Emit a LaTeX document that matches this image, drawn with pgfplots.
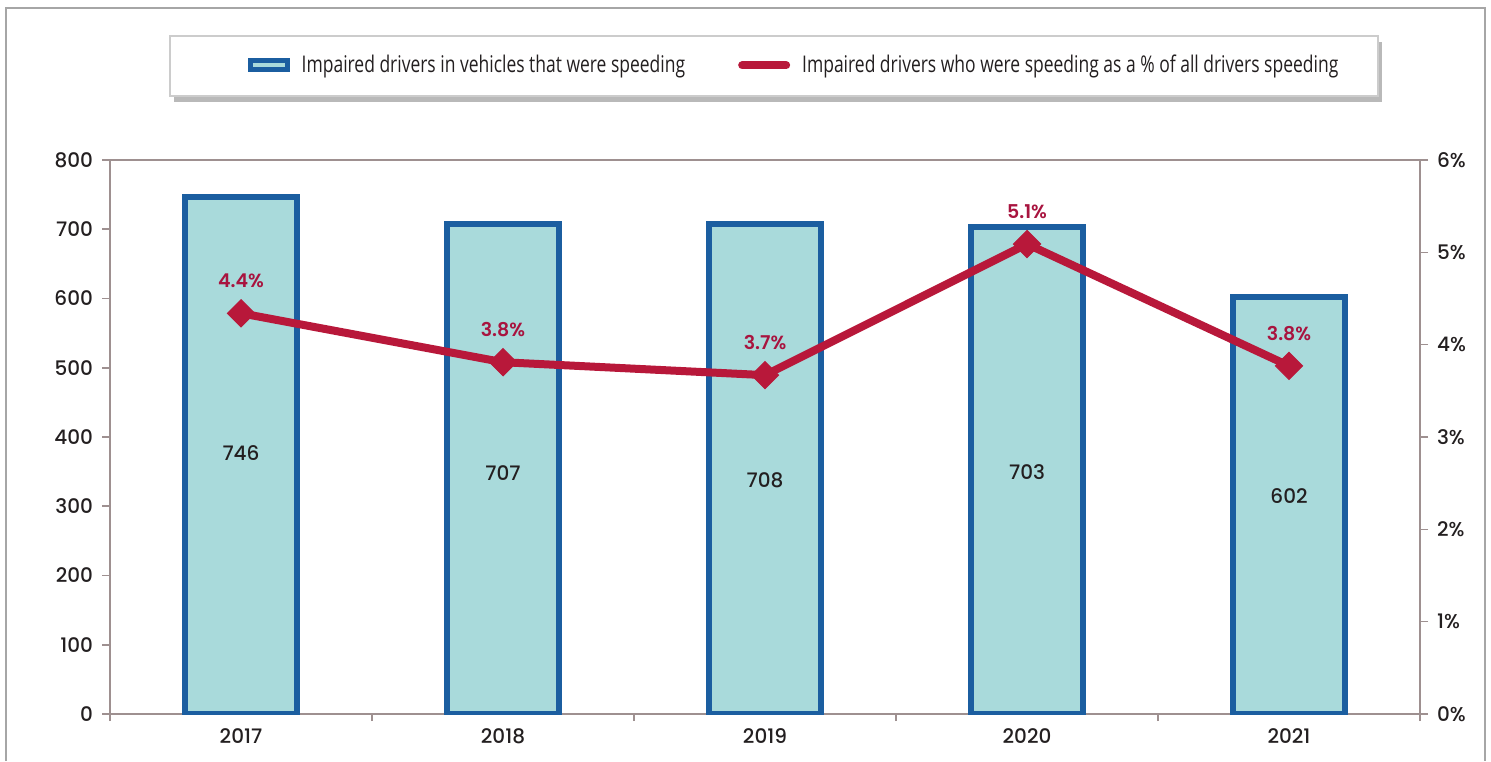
\documentclass[border=0pt]{standalone}
\usepackage{pgfplots}
\pgfplotsset{compat=1.18}
\usepackage{fontspec}
\setmainfont{Poppins}
\newfontfamily\tickfont{Poppins Medium}
\newfontfamily\labfont{Poppins SemiBold}
\newfontfamily\legfont[FakeStretch=0.76]{Open Sans}
\usetikzlibrary{shadows}
\definecolor{barfill}{HTML}{A9DADB}
\definecolor{barblue}{HTML}{1B5EA0}
\definecolor{linered}{HTML}{B8183A}
\definecolor{labred}{HTML}{A8143F}
\definecolor{axisgray}{HTML}{9E9090}
\definecolor{txt}{HTML}{231F20}

\begin{document}
\begin{tikzpicture}
% page size and outer frame
\path (0pt,0pt) rectangle (745.5pt,380.5pt);
\draw[gray!70, line width=0.8pt] (3pt,0pt) -- (3pt,376.5pt) -- (742.5pt,376.5pt) -- (742.5pt,0pt);
% legend box
\draw[draw=gray!40, fill=white, line width=0.6pt,
      drop shadow={shadow xshift=1.8pt, shadow yshift=-2.8pt, opacity=0.55, fill=gray}]
  (85pt,332.5pt) rectangle (689pt,362.5pt);

\pgfplotsset{
  base/.style={
    at={(55pt,23.5pt)}, anchor=south west,
    scale only axis, width=655pt, height=277pt,
    xmin=-0.5, xmax=4.5,
    axis line style={draw=axisgray, line width=1pt},
    tick style={draw=axisgray, line width=0.8pt},
    tick align=outside, major tick length=4pt,
    tick label style={font=\tickfont\fontsize{10}{12}\selectfont, text=txt},
    /pgf/number format/assume math mode=true,
  },
}

\begin{axis}[base,
  ymin=0, ymax=800, ytick={0,100,...,800},
  ytick pos=left, xtick pos=bottom,
  xtick={0,1,2,3,4},
  xticklabels={2017,2018,2019,2020,2021},
  major x tick style={draw=none},
  minor xtick={-0.5,0.5,1.5,2.5,3.5,4.5},
  minor tick length=3.5pt,
  yticklabel style={xshift=-1pt},
]
\addplot[ybar, bar width=0.425, fill=barfill, draw=barblue, line width=3pt]
  coordinates {(0,746) (1,707) (2,708) (3,703) (4,602)};
\addplot[draw=none, mark=none, nodes near coords, point meta=explicit symbolic,
  every node near coord/.style={anchor=center, font=\tickfont\fontsize{10}{12}\selectfont, text=txt}]
  coordinates {(0,377)[746] (1,348)[707] (2,338)[708] (3,349)[703] (4,315)[602]};
\end{axis}

\begin{axis}[base,
  ymin=0, ymax=6, ytick={0,1,...,6},
  axis y line*=right, hide x axis,
  yticklabel={\pgfmathprintnumber{\tick}\%},
  yticklabel style={xshift=1pt},
  legend style={at={(0.5229,1.171)}, anchor=center, draw=none, fill=none,
    font=\legfont\fontsize{11.5}{13}\selectfont, text=txt,
    legend columns=2,
    /tikz/every odd column/.append style={column sep=4pt},
    /tikz/every even column/.append style={column sep=24.5pt}},
  legend cell align=left,
]
\addlegendimage{legend image code/.code={
  \draw[fill=barfill, draw=barblue, line width=2.5pt] (0pt,-2.2pt) rectangle (18.5pt,2.2pt);}}
\addlegendentry{Impaired drivers in vehicles that were speeding}
\addplot[color=linered, line width=4pt, mark=square*, mark size=4.8pt,
  mark options={rotate=45, line width=0.5pt, fill=linered},
  nodes near coords, point meta=explicit symbolic,
  every node near coord/.style={anchor=south, yshift=9pt,
    font=\labfont\fontsize{9.5}{11}\selectfont, text=labred},
  legend image code/.code={
    \draw[linered, line width=4pt, line cap=round] (0pt,0pt) -- (22pt,0pt);}]
  coordinates {(0,4.34)[4.4\%] (1,3.81)[3.8\%] (2,3.67)[3.7\%] (3,5.09)[5.1\%] (4,3.77)[3.8\%]};
\addlegendentry{Impaired drivers who were speeding as a \% of all drivers speeding}
\end{axis}
\end{tikzpicture}
\end{document}
